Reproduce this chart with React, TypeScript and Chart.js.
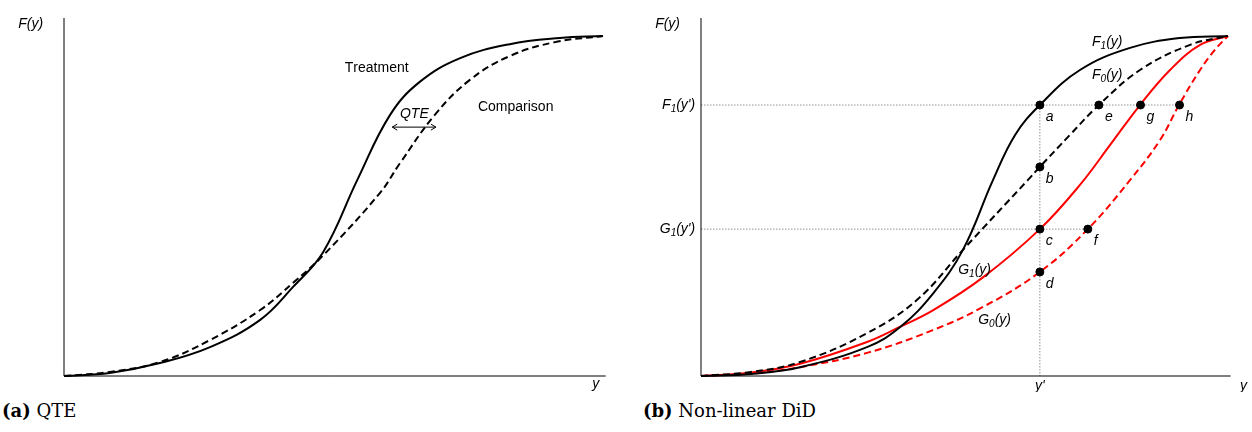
import React, { useEffect, useRef } from 'react';
import Chart from 'chart.js/auto';

// panel (a): QTE
const treatX = [0, 0.085, 0.178, 0.271, 0.364, 0.425, 0.481, 0.544, 0.605, 0.66, 0.735, 0.827, 0.92, 1];
const treatY = [0, 0.009, 0.038, 0.085, 0.165, 0.262, 0.365, 0.576, 0.768, 0.865, 0.935, 0.976, 0.994, 1];
const compX = [0, 0.085, 0.178, 0.271, 0.364, 0.425, 0.481, 0.586, 0.623, 0.688, 0.753, 0.827, 0.911, 1];
const compY = [0, 0.012, 0.041, 0.106, 0.194, 0.274, 0.355, 0.538, 0.625, 0.768, 0.871, 0.941, 0.982, 1];

// panel (b): non-linear DiD
const f1X = [0, 0.095, 0.188, 0.315, 0.378, 0.441, 0.497, 0.554, 0.596, 0.643, 0.719, 0.814, 0.909, 1];
const f1Y = [0, 0.006, 0.026, 0.085, 0.144, 0.244, 0.371, 0.576, 0.709, 0.797, 0.9, 0.965, 0.994, 1];
const f0X = [0, 0.095, 0.188, 0.315, 0.41, 0.497, 0.62, 0.643, 0.7, 0.755, 0.833, 0.928, 1];
const f0Y = [0, 0.012, 0.041, 0.126, 0.224, 0.371, 0.576, 0.615, 0.709, 0.797, 0.9, 0.974, 1];
const g1X = [0, 0.095, 0.188, 0.315, 0.378, 0.44, 0.535, 0.643, 0.719, 0.776, 0.833, 0.89, 0.947, 1];
const g1Y = [0, 0.01, 0.036, 0.1, 0.145, 0.193, 0.29, 0.432, 0.562, 0.679, 0.797, 0.9, 0.974, 1];
const g0X = [0, 0.095, 0.188, 0.315, 0.44, 0.535, 0.643, 0.734, 0.814, 0.871, 0.907, 0.947, 0.975, 1];
const g0Y = [0, 0.007, 0.026, 0.068, 0.135, 0.203, 0.306, 0.432, 0.576, 0.694, 0.797, 0.9, 0.959, 1];

const pointNames = ['a', 'b', 'c', 'd', 'e', 'f', 'g', 'h'];
const pointX = [0.643, 0.643, 0.643, 0.643, 0.755, 0.734, 0.834, 0.908];
const pointY = [0.797, 0.615, 0.432, 0.306, 0.797, 0.432, 0.797, 0.797];
const yPrime = 0.643;
const f1Level = 0.797;
const g1Level = 0.432;

type Lbl = { t: string; x: number; y: number; align?: CanvasTextAlign; italic?: boolean };

const leftLabels: Lbl[] = [
  { t: 'F(y)', x: -0.085, y: 1.035, italic: true },
  { t: 'Treatment', x: 0.521, y: 0.906 },
  { t: 'Comparison', x: 0.768, y: 0.791 },
  { t: 'QTE', x: 0.65, y: 0.77, align: 'center', italic: true },
  { t: 'y', x: 0.98, y: -0.024, italic: true },
];
const rightLabels: Lbl[] = [
  { t: 'F(y)', x: -0.087, y: 1.035, italic: true },
  { t: 'F_1(y)', x: 0.742, y: 0.982, italic: true },
  { t: 'F_0(y)', x: 0.742, y: 0.885, italic: true },
  { t: "F_1(y')", x: -0.011, y: 0.797, align: 'right', italic: true },
  { t: "G_1(y')", x: -0.011, y: 0.432, align: 'right', italic: true },
  { t: 'G_1(y)', x: 0.488, y: 0.312, italic: true },
  { t: 'G_0(y)', x: 0.526, y: 0.165, italic: true },
  { t: "y'", x: 0.643, y: -0.03, align: 'center', italic: true },
  { t: 'y', x: 1.023, y: -0.03, italic: true },
];

const pts = (xs: number[], ys: number[]) => xs.map((x, i) => ({ x, y: ys[i] }));

function drawLabel(ctx: CanvasRenderingContext2D, l: Lbl, px: number, py: number) {
  const style = l.italic ? 'italic ' : '';
  const parts: { s: string; sub: boolean }[] = [];
  for (let i = 0; i < l.t.length; i++) {
    if (l.t[i] === '_') { parts.push({ s: l.t[i + 1], sub: true }); i++; }
    else parts.push({ s: l.t[i], sub: false });
  }
  const big = `${style}14px "Liberation Sans", Arial`;
  const small = `${style}10px "Liberation Sans", Arial`;
  let w = 0;
  parts.forEach(p => { ctx.font = p.sub ? small : big; w += ctx.measureText(p.s).width; });
  let x = px;
  if (l.align === 'right') x = px - w;
  else if (l.align === 'center') x = px - w / 2;
  ctx.fillStyle = '#000';
  ctx.textBaseline = 'middle';
  ctx.textAlign = 'left';
  parts.forEach(p => {
    ctx.font = p.sub ? small : big;
    ctx.fillText(p.s, x, p.sub ? py + 4 : py);
    x += ctx.measureText(p.s).width;
  });
}

function makeOverlay(labels: Lbl[], extra: (c: Chart) => void) {
  return {
    id: 'overlay',
    afterDatasetsDraw(c: Chart) {
      const ctx = c.ctx;
      const xs = c.scales.x, ys = c.scales.y;
      ctx.save();
      ctx.strokeStyle = '#000';
      ctx.lineWidth = 1;
      ctx.beginPath();
      ctx.moveTo(xs.getPixelForValue(0), ys.getPixelForValue(1.053));
      ctx.lineTo(xs.getPixelForValue(0), ys.getPixelForValue(0));
      ctx.lineTo(xs.getPixelForValue(1.005), ys.getPixelForValue(0));
      ctx.stroke();
      extra(c);
      labels.forEach(l => drawLabel(ctx, l, xs.getPixelForValue(l.x), ys.getPixelForValue(l.y)));
      ctx.restore();
    },
  };
}

function baseOptions(left: number, right: number): any {
  return {
    animation: false,
    responsive: false,
    layout: { padding: { left, right, top: 36, bottom: 16 } },
    plugins: { legend: { display: false }, tooltip: { enabled: false } },
    scales: {
      x: { type: 'linear', min: 0, max: 1, display: false },
      y: { type: 'linear', min: 0, max: 1, display: false },
    },
  };
}

const line = (data: any[], color: string, dashed: boolean) => ({
  type: 'line' as const,
  data,
  borderColor: color,
  borderWidth: 2,
  borderDash: dashed ? [7, 4] : [],
  pointRadius: 0,
  tension: 0.4,
  fill: false,
  clip: false as any,
});

const App = () => {
  const leftRef = useRef<HTMLCanvasElement | null>(null);
  const rightRef = useRef<HTMLCanvasElement | null>(null);

  useEffect(() => {
    document.body.style.margin = '0';
    const left = new Chart(leftRef.current!, {
      type: 'line',
      data: { datasets: [line(pts(treatX, treatY), '#000', false), line(pts(compX, compY), '#000', true)] },
      options: baseOptions(64, 23),
      plugins: [makeOverlay(leftLabels, c => {
        const ctx = c.ctx, xs = c.scales.x, ys = c.scales.y;
        const y = ys.getPixelForValue(0.732);
        const x1 = xs.getPixelForValue(0.609), x2 = xs.getPixelForValue(0.69);
        ctx.lineWidth = 1;
        ctx.beginPath();
        ctx.moveTo(x1, y); ctx.lineTo(x2, y);
        ctx.moveTo(x1 + 5, y - 3); ctx.lineTo(x1, y); ctx.lineTo(x1 + 5, y + 3);
        ctx.moveTo(x2 - 5, y - 3); ctx.lineTo(x2, y); ctx.lineTo(x2 - 5, y + 3);
        ctx.stroke();
      })],
    } as any);

    const right = new Chart(rightRef.current!, {
      type: 'line',
      data: {
        datasets: [
          line(pts(f1X, f1Y), '#000', false),
          line(pts(f0X, f0Y), '#000', true),
          line(pts(g1X, g1Y), '#ff0000', false),
          line(pts(g0X, g0Y), '#ff0000', true),
          {
            type: 'scatter',
            data: pts(pointX, pointY),
            order: -1,
            pointRadius: 4,
            pointBackgroundColor: '#000',
            pointBorderColor: '#000',
          } as any,
        ],
      },
      options: baseOptions(75, 24),
      plugins: [
        {
          id: 'guides',
          beforeDatasetsDraw(c: Chart) {
            const ctx = c.ctx, xs = c.scales.x, ys = c.scales.y;
            ctx.save();
            ctx.strokeStyle = '#777';
            ctx.lineWidth = 0.8;
            ctx.setLineDash([1.5, 1.5]);
            ctx.beginPath();
            ctx.moveTo(xs.getPixelForValue(0), ys.getPixelForValue(f1Level));
            ctx.lineTo(xs.getPixelForValue(pointX[7]), ys.getPixelForValue(f1Level));
            ctx.moveTo(xs.getPixelForValue(0), ys.getPixelForValue(g1Level));
            ctx.lineTo(xs.getPixelForValue(pointX[5]), ys.getPixelForValue(g1Level));
            ctx.moveTo(xs.getPixelForValue(yPrime), ys.getPixelForValue(f1Level));
            ctx.lineTo(xs.getPixelForValue(yPrime), ys.getPixelForValue(0));
            ctx.stroke();
            ctx.restore();
          },
        },
        makeOverlay(rightLabels, c => {
          const ctx = c.ctx, xs = c.scales.x, ys = c.scales.y;
          pointNames.forEach((n, i) =>
            drawLabel(ctx, { t: n, x: 0, y: 0, italic: true },
              xs.getPixelForValue(pointX[i]) + 6, ys.getPixelForValue(pointY[i]) + 12));
        }),
      ],
    } as any);

    return () => { left.destroy(); right.destroy(); };
  }, []);

  const cap: React.CSSProperties = { position: 'absolute', top: 400, fontFamily: '"DejaVu Serif", "Liberation Serif", serif', fontSize: 18 };
  return (
    <div style={{ position: 'relative', width: 1252, height: 432, background: '#fff' }}>
      <canvas ref={leftRef} width={626} height={392} style={{ position: 'absolute', left: 0, top: 0 }} />
      <canvas ref={rightRef} width={626} height={392} style={{ position: 'absolute', left: 626, top: 0 }} />
      <div style={{ ...cap, left: 2 }}><b>(a)</b> QTE</div>
      <div style={{ ...cap, left: 643 }}><b>(b)</b> Non-linear DiD</div>
    </div>
  );
};

export default App;
